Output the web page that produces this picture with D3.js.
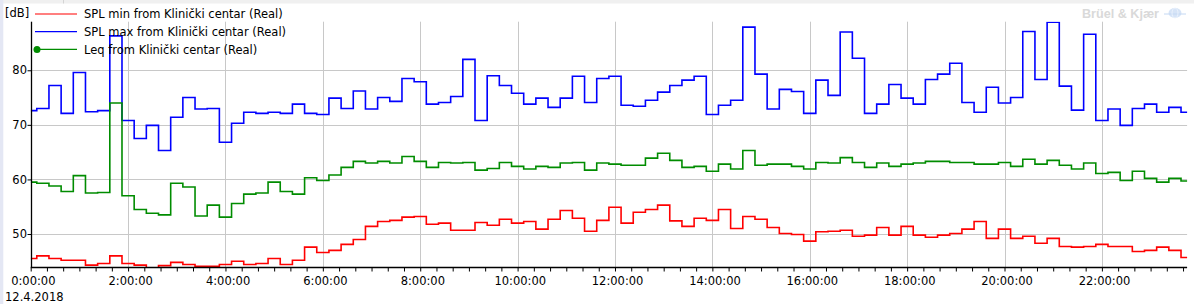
<!DOCTYPE html>
<html>
<head>
<meta charset="utf-8">
<script src="https://cdn.jsdelivr.net/npm/d3@7"></script>
<style>
  html, body { margin: 0; padding: 0; background: #fff; }
  svg { display: block; }
  text { font-family: "DejaVu Sans", Verdana, sans-serif; font-size: 11.5px; fill: #000; }
</style>
</head>
<body>
<svg id="chart" width="1194" height="304"></svg>
<script>
// ---- data (15-minute intervals, 12.4.2018) ----
const splMax = [72.6,73.0,77.2,72.1,79.6,72.4,72.6,86.3,70.8,67.5,
  69.9,65.3,71.4,75.0,72.9,73.0,66.8,70.3,72.3,72.1,
  72.3,72.1,73.8,72.1,71.9,74.9,73.0,76.2,72.9,75.0,
  74.3,78.5,77.9,73.8,74.1,75.2,82.0,70.8,79.0,77.2,
  75.8,73.8,74.9,73.2,74.9,78.9,74.1,78.5,78.9,73.6,
  73.4,74.5,76.0,77.2,78.2,78.9,71.9,73.6,74.5,87.9,
  79.3,72.9,76.5,76.1,72.1,78.2,75.4,87.0,82.2,72.1,
  73.8,77.4,74.9,73.8,78.3,79.3,81.3,74.1,72.3,76.9,
  74.0,75.0,87.1,78.3,88.8,77.1,72.7,86.6,70.8,72.9,
  69.9,73.0,73.8,72.3,73.2,72.3];
const splMin = [45.5,46.0,45.5,45.2,45.2,44.3,44.6,46.0,44.6,44.3,
  43.8,44.2,44.8,44.4,44.1,44.1,44.4,45.0,44.4,44.6,
  45.5,44.4,45.2,47.6,46.6,47.0,48.1,49.0,51.4,52.3,
  52.5,53.1,53.2,51.8,52.0,50.7,50.7,52.1,51.6,52.7,
  52.0,52.3,50.9,52.7,54.3,52.9,50.5,52.5,54.9,52.0,
  54.0,54.5,55.3,52.4,51.4,52.9,52.5,54.5,51.0,53.2,
  52.7,51.2,50.1,49.9,48.7,50.4,50.5,50.7,49.6,49.8,
  51.2,49.8,51.4,49.8,49.4,49.8,50.1,50.9,52.3,49.2,
  50.9,49.2,49.6,48.3,49.2,47.7,47.6,47.7,48.1,47.7,
  47.7,46.8,47.0,47.6,47.0,45.7];
const leq = [59.5,59.3,58.8,57.8,60.7,57.5,57.6,74.0,57.0,54.5,
  53.8,53.5,59.3,58.6,53.3,55.3,53.1,55.6,57.3,57.5,
  59.5,57.8,57.3,60.3,59.8,60.8,62.2,63.3,63.0,63.3,
  63.0,64.2,63.3,62.2,63.1,63.0,63.1,61.7,62.0,63.1,
  62.4,61.9,62.4,62.2,63.0,63.1,61.7,63.0,62.8,62.6,
  62.6,63.9,64.8,63.5,62.2,62.4,61.5,62.8,61.9,65.3,
  62.6,62.8,62.8,62.4,61.9,63.1,63.0,64.0,63.1,62.2,
  63.0,62.4,62.8,63.0,63.3,63.3,63.1,63.1,62.8,62.8,
  63.1,62.4,63.7,62.8,63.5,62.6,61.9,63.0,61.1,61.3,
  59.8,61.5,60.2,59.5,60.2,59.7];
const hours = d3.range(splMax.length).map(i => i * 0.25);   // 0:00 .. 23:45
const majorTicks = [0,2,4,6,8,10,12,14,16,18,20,22];
const majorLabels = ["0:00:00","2:00:00","4:00:00","6:00:00","8:00:00","10:00:00",
  "12:00:00","14:00:00","16:00:00","18:00:00","20:00:00","22:00:00"];
const yTicks = [50,60,70,80];
const dateLabel = "12.4.2018";
const unitLabel = "[dB]";
const seriesNames = ["SPL min from Klinički centar (Real)",
  "SPL max from Klinički centar (Real)",
  "Leq from Klinički centar (Real)"];
const seriesColors = ["#ff0000","#0000ff","#008c00"];

// ---- layout ----
const svg = d3.select("#chart");
const X0 = 30.7, X1 = 1187.1, Y0 = 267.3, Y1 = 21.7;
const x = d3.scaleLinear().domain([0, 23.75]).range([X0, X1]);
const y = d3.scaleLinear().domain([43.9, 88.9]).range([Y0, Y1]);

// window chrome
svg.append("rect").attr("x",0).attr("y",0).attr("width",1194).attr("height",3.5).attr("fill","#f0f0f0");
svg.append("line").attr("x1",63.5).attr("x2",63.5).attr("y1",0).attr("y2",3.5).attr("stroke","#d4d4d4");
svg.append("rect").attr("x",0).attr("y",0).attr("width",3.3).attr("height",304).attr("fill","#e4e7f4");

// grid
const grid = svg.append("g");
grid.selectAll("line.h").data(yTicks).join("line")
  .attr("x1", X0).attr("x2", X1)
  .attr("y1", d => Math.round(y(d)) + 0.5).attr("y2", d => Math.round(y(d)) + 0.5)
  .attr("stroke", "#c8c8c8").attr("stroke-width", 1);
grid.selectAll("line.v").data(majorTicks.slice(1)).join("line")
  .attr("x1", d => Math.round(x(d)) + 0.5).attr("x2", d => Math.round(x(d)) + 0.5)
  .attr("y1", Y1).attr("y2", Y0)
  .attr("stroke", "#c8c8c8").attr("stroke-width", 1);

// clip
svg.append("clipPath").attr("id","clip").append("rect")
  .attr("x", X0).attr("y", Y1).attr("width", X1 - X0 + 1).attr("height", Y0 - Y1);

const seriesData = [splMin, splMax, leq];
const line = d3.line().curve(d3.curveStep).x((d,i) => x(hours[i])).y(d => y(d));
const plot = svg.append("g").attr("clip-path","url(#clip)");
seriesData.forEach((s, si) => {
  plot.append("path").datum(s).attr("d", line)
    .attr("fill","none").attr("stroke", seriesColors[si]).attr("stroke-width", 1.6)
    .attr("stroke-linejoin","miter");
});

// axes
const minorTicks = d3.range(0, 23.75 + 1e-9, 1/3);
const xAxis = d3.axisBottom(x).tickValues(minorTicks).tickSize(4).tickFormat("");
const gx = svg.append("g").attr("transform", `translate(0,${Math.round(Y0)+0.5})`).call(xAxis);
gx.select(".domain").attr("d", `M${X0},0H${X1}`).attr("stroke","#000").attr("stroke-width",1.3);
gx.selectAll(".tick line").attr("stroke","#000");
const gxl = svg.append("g");
gxl.selectAll("text").data(majorTicks).join("text")
  .attr("x", d => x(d) + 2.6).attr("y", 285)
  .attr("text-anchor","middle").text((d,i) => majorLabels[i]);
svg.append("text").attr("x", 5).attr("y", 300.8).text(dateLabel);

const yAxis = d3.axisLeft(y).tickValues(yTicks).tickSize(4).tickFormat("");
const gy = svg.append("g").attr("transform", `translate(${Math.round(X0)+0.5},0)`).call(yAxis);
gy.select(".domain").attr("d", `M0,${Y1}V${Y0}`).attr("stroke","#000").attr("stroke-width",1.3);
gy.selectAll(".tick line").attr("stroke","#000");
svg.selectAll("text.yl").data(yTicks).join("text").attr("class","yl")
  .attr("x", 27).attr("y", d => y(d)).attr("dy","0.36em")
  .attr("text-anchor","end").text(d => d);

// unit label
svg.append("text").attr("x", 5).attr("y", 17.4).text(unitLabel);

// legend
const legend = svg.append("g");
seriesNames.forEach((name, i) => {
  const ly = 14 + i * 17.7;
  legend.append("line").attr("x1", 35).attr("x2", 77).attr("y1", ly).attr("y2", ly)
    .attr("stroke", seriesColors[i]).attr("stroke-width", 1.2);
  if (i === 2) legend.append("circle").attr("cx", 37).attr("cy", ly).attr("r", 3.5).attr("fill", seriesColors[i]);
  legend.append("text").attr("x", 84).attr("y", ly + 4.3).text(name);
});

// watermark
svg.append("text").attr("x", 1082).attr("y", 17.5)
  .style("font-family","'Liberation Sans', Arial, sans-serif")
  .style("font-size","12.5px").style("font-weight","bold").style("fill","#d9d9d9")
  .attr("textLength", 77).attr("lengthAdjust","spacingAndGlyphs")
  .text("Brüel & Kjær");
const logo = svg.append("g").attr("transform","translate(1175,13)");
logo.append("ellipse").attr("rx", 6.5).attr("ry", 5).attr("fill","#d6e4f7");
logo.append("line").attr("x1",-11).attr("x2",11).attr("y1",1).attr("y2",1).attr("stroke","#c4d8f3").attr("stroke-width",1);
logo.append("ellipse").attr("rx", 3).attr("ry", 5).attr("fill","none").attr("stroke","#eef4fc").attr("stroke-width",0.8);
</script>
</body>
</html>
